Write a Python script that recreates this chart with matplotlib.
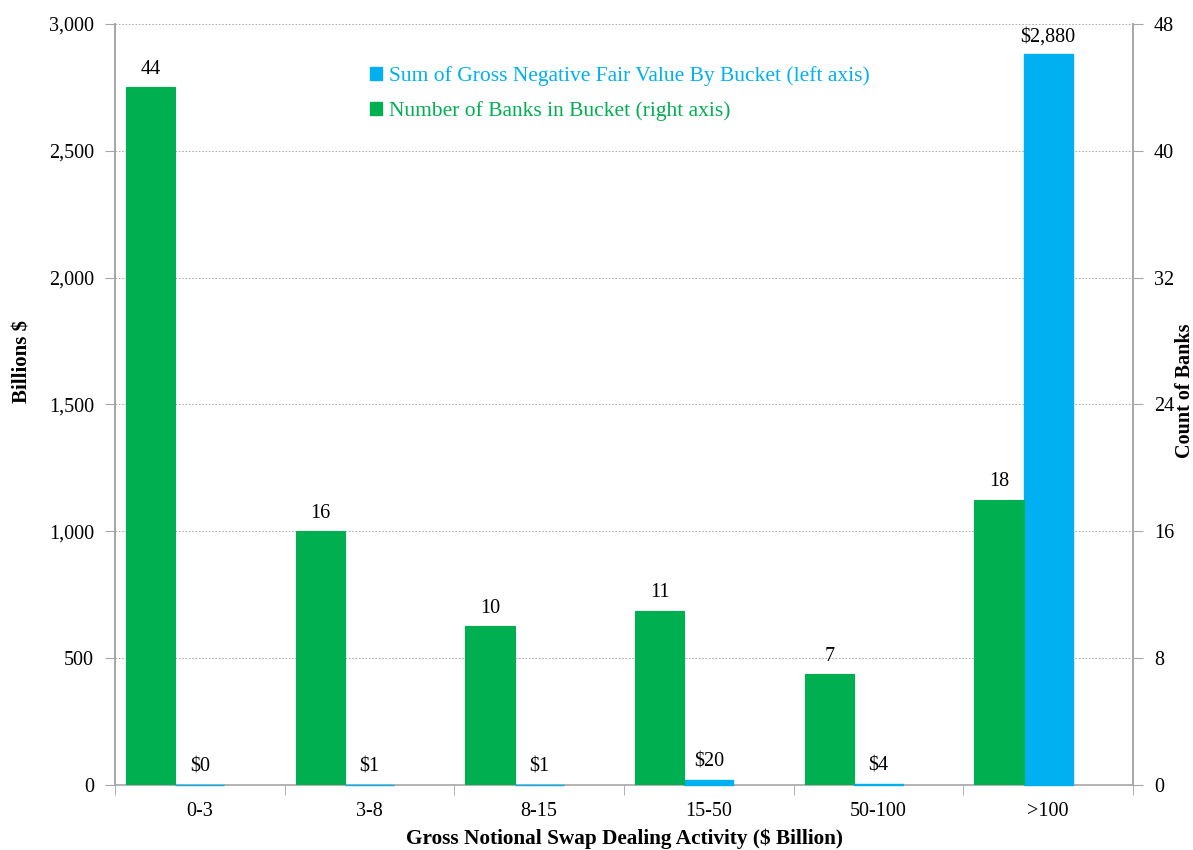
import matplotlib.pyplot as plt
from matplotlib.patches import Patch
from matplotlib.ticker import FuncFormatter, MultipleLocator
import numpy as np

plt.rcParams['font.family'] = ['Liberation Serif', 'DejaVu Serif']

# --- datos ---
buckets = ['0-3', '3-8', '8-15', '15-50', '50-100', '>100']
valor_negativo = [0.3, 1, 1, 20, 4, 2880]   # miles de millones $
num_bancos = [44, 16, 10, 11, 7, 18]

azul = '#00B0F0'
verde = '#00B050'
gris = '#A6A6A6'

fig = plt.figure(figsize=(11.93, 8.5), dpi=100)
ax = fig.add_axes([0.0964, 0.0765, 0.8533, 0.8953])
ax2 = ax.twinx()

x = np.arange(len(buckets))
ancho = 0.29

# barras azules (eje izquierdo) centradas, verdes (eje derecho) a la izquierda
b_azul = ax.bar(x, valor_negativo, width=ancho, color=azul, edgecolor=azul,
                linewidth=1.0, zorder=3, clip_on=False)
b_verde = ax2.bar(x - ancho, num_bancos, width=ancho, color=verde, edgecolor=verde, linewidth=0.8)

for rect, v in zip(b_azul, valor_negativo):
    ax.annotate(f'${v:,.0f}', (rect.get_x() + rect.get_width() / 2, rect.get_height()),
                xytext=(0, 6), textcoords='offset points', ha='center', va='bottom', fontsize=14.5)
for rect, v in zip(b_verde, num_bancos):
    ax2.annotate(f'{v}', (rect.get_x() + rect.get_width() / 2, rect.get_height()),
                 xytext=(0, 6), textcoords='offset points', ha='center', va='bottom', fontsize=14.5)

# ejes
ax.set_xlim(-0.5, len(buckets) - 0.5)
ax.set_ylim(0, 3000)
ax2.set_ylim(0, 48)
ax.yaxis.set_major_locator(MultipleLocator(500))
ax2.yaxis.set_major_locator(MultipleLocator(8))
ax.yaxis.set_major_formatter(FuncFormatter(lambda v, p: f'{v:,.0f}'))

ax.set_xticks(x)
ax.set_xticklabels(buckets, fontsize=14.5)
ax.set_xticks(np.arange(-0.5, len(buckets)), minor=True)
ax.tick_params(axis='x', which='major', length=0, pad=12)
ax.tick_params(axis='x', which='minor', length=7, color=gris, direction='out')
ax.tick_params(axis='y', labelsize=14.5, length=7, color=gris, pad=8)
ax2.tick_params(axis='y', labelsize=14.5, length=7, color=gris, pad=8)

ax.grid(axis='y', color='#A0A0A0', linestyle=(0, (2, 2)), linewidth=0.6)
ax.set_axisbelow(True)

for a in (ax, ax2):
    a.spines['top'].set_visible(False)
    for s in ('left', 'right', 'bottom'):
        a.spines[s].set_color(gris)
        a.spines[s].set_linewidth(1.2)
ax2.spines['bottom'].set_visible(False)
ax.spines['bottom'].set_zorder(2)

ax.set_ylabel('Billions $', fontsize=15, fontweight='bold')
ax.yaxis.set_label_coords(-0.0905, 0.556)
ax.yaxis.label.set_va('center')
ax2.set_ylabel('Count of Banks', fontsize=14.5, fontweight='bold')
ax2.yaxis.set_label_coords(1.051, 0.518)
ax2.yaxis.label.set_va('center')
ax.set_xlabel('Gross Notional Swap Dealing Activity ($ Billion)', fontsize=15.3,
              fontweight='bold', labelpad=6)

# leyenda con texto del color de cada serie
handles = [Patch(color=azul, label='Sum of Gross Negative Fair Value By Bucket (left axis)'),
           Patch(color=verde, label='Number of Banks in Bucket (right axis)')]
leg = ax2.legend(handles=handles, loc='upper left', bbox_to_anchor=(0.231, 0.97),
                 frameon=False, fontsize=15.5, handlelength=0.6, handleheight=0.6,
                 handletextpad=0.3, labelspacing=0.7)
for t, c in zip(leg.get_texts(), (azul, verde)):
    t.set_color(c)

fig.savefig('out.png', dpi=100)
